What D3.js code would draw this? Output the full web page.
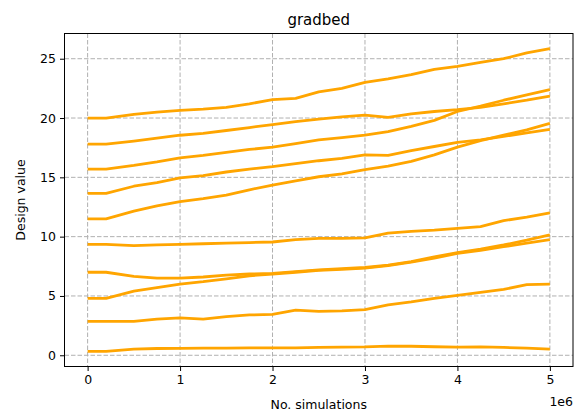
<!DOCTYPE html>
<html>
<head>
<meta charset="utf-8">
<script src="https://cdn.jsdelivr.net/npm/d3@7"></script>
<style>
  body { margin: 0; background: #fff; }
  svg { font-family: "DejaVu Sans", sans-serif; }
</style>
</head>
<body>
<div id="chart"></div>
<script>
"use strict";

// abscisses communes : nombre de simulations
var simulations = [0, 2e5, 5e5, 7.5e5, 1e6, 1.25e6, 1.5e6, 1.75e6, 2e6, 2.25e6, 2.5e6,
  2.75e6, 3e6, 3.25e6, 3.5e6, 3.75e6, 4e6, 4.25e6, 4.5e6, 4.75e6, 5e6];

// une série par trajectoire de "design value"
var trajet20 = [20.0, 20.0, 20.3, 20.5, 20.65, 20.75, 20.9, 21.2, 21.55, 21.65, 22.2,
  22.5, 23.0, 23.3, 23.65, 24.1, 24.35, 24.7, 25.0, 25.5, 25.85];
var trajet18 = [17.8, 17.8, 18.05, 18.3, 18.55, 18.7, 18.95, 19.2, 19.45, 19.7, 19.9,
  20.1, 20.25, 20.05, 20.35, 20.55, 20.7, 20.9, 21.2, 21.5, 21.85];
var trajet16 = [15.7, 15.7, 16.0, 16.3, 16.65, 16.85, 17.1, 17.35, 17.55, 17.85, 18.15,
  18.35, 18.55, 18.85, 19.3, 19.8, 20.55, 21.0, 21.5, 21.95, 22.4];
var trajet14 = [13.65, 13.65, 14.25, 14.55, 14.95, 15.15, 15.45, 15.7, 15.9, 16.15, 16.4,
  16.6, 16.9, 16.85, 17.25, 17.6, 17.95, 18.15, 18.45, 18.75, 19.05];
var trajet12 = [11.5, 11.5, 12.15, 12.6, 12.95, 13.2, 13.5, 13.95, 14.35, 14.7, 15.05,
  15.3, 15.65, 15.95, 16.35, 16.9, 17.55, 18.1, 18.55, 19.0, 19.55];
var trajet9 = [9.35, 9.35, 9.25, 9.3, 9.35, 9.4, 9.45, 9.5, 9.55, 9.75, 9.85,
  9.85, 9.9, 10.3, 10.45, 10.55, 10.7, 10.85, 11.35, 11.65, 12.0];
var trajet7 = [7.0, 7.0, 6.65, 6.5, 6.5, 6.6, 6.75, 6.85, 6.9, 7.05, 7.2,
  7.3, 7.4, 7.6, 7.9, 8.3, 8.65, 8.95, 9.3, 9.7, 10.15];
var trajet5 = [4.8, 4.8, 5.4, 5.7, 6.0, 6.2, 6.45, 6.7, 6.85, 7.0, 7.15,
  7.25, 7.35, 7.55, 7.85, 8.2, 8.6, 8.85, 9.15, 9.45, 9.75];
var trajet3 = [2.85, 2.85, 2.85, 3.05, 3.15, 3.05, 3.25, 3.4, 3.45, 3.8, 3.7,
  3.75, 3.85, 4.25, 4.5, 4.8, 5.05, 5.3, 5.55, 5.95, 6.0];
var trajet0 = [0.33, 0.33, 0.52, 0.57, 0.58, 0.6, 0.6, 0.62, 0.62, 0.63, 0.66,
  0.68, 0.7, 0.78, 0.76, 0.72, 0.68, 0.7, 0.66, 0.6, 0.52];

var trajets = [trajet20, trajet18, trajet16, trajet14, trajet12, trajet9, trajet7, trajet5, trajet3, trajet0];

var ticksX = [0, 1e6, 2e6, 3e6, 4e6, 5e6];
var ticksY = [0, 5, 10, 15, 20, 25];

var largeur = 582, hauteur = 418,
  marge = { top: 33.5, right: 9, bottom: 51.5, left: 64.5 };

// marges de 5 % à la manière de matplotlib
function etendre (ext) {
  var d = (ext[1] - ext[0]) * 0.05;
  return [ext[0] - d, ext[1] + d];
}

var x = d3.scaleLinear()
  .domain(etendre(d3.extent(simulations)))
  .range([marge.left, largeur - marge.right]);
var y = d3.scaleLinear()
  .domain(etendre(d3.extent(d3.merge(trajets))))
  .range([hauteur - marge.bottom, marge.top]);

var svg = d3.select("#chart").append("svg")
  .attr("width", largeur)
  .attr("height", hauteur);

// grilles
var grille = svg.append("g").attr("class", "grilles")
  .attr("stroke", "#b0b0b0").attr("stroke-width", 1).attr("stroke-dasharray", "4.5,2");
grille.selectAll(".gx").data(ticksX).enter().append("line")
  .attr("x1", d => x(d)).attr("x2", d => x(d))
  .attr("y1", marge.top).attr("y2", hauteur - marge.bottom);
grille.selectAll(".gy").data(ticksY).enter().append("line")
  .attr("x1", marge.left).attr("x2", largeur - marge.right)
  .attr("y1", d => y(d)).attr("y2", d => y(d));

// tracés
var ligne = d3.line()
  .x((d, i) => x(simulations[i]))
  .y(d => y(d));
svg.append("g")
  .selectAll("path").data(trajets).enter().append("path")
  .attr("d", ligne)
  .attr("fill", "none")
  .attr("stroke", "#ffa500")
  .attr("stroke-width", 2.8)
  .attr("stroke-linejoin", "round");

// cadre
svg.append("rect")
  .attr("x", marge.left).attr("y", marge.top)
  .attr("width", largeur - marge.right - marge.left)
  .attr("height", hauteur - marge.bottom - marge.top)
  .attr("fill", "none").attr("stroke", "#000").attr("stroke-width", 1);

// axes
var axeX = svg.append("g")
  .attr("transform", "translate(0," + (hauteur - marge.bottom) + ")")
  .call(d3.axisBottom(x).tickValues(ticksX).tickFormat(d => d / 1e6).tickSize(4.5).tickPadding(4));
var axeY = svg.append("g")
  .attr("transform", "translate(" + marge.left + ",0)")
  .call(d3.axisLeft(y).tickValues(ticksY).tickSize(4.5).tickPadding(4));
[axeX, axeY].forEach(function (a) {
  a.select(".domain").remove();
  a.selectAll("text").attr("font-size", 12.5).attr("fill", "#000")
    .attr("font-family", "DejaVu Sans, sans-serif");
  a.selectAll("line").attr("stroke", "#000").attr("stroke-width", 1);
});

// textes
svg.append("text")
  .attr("x", (marge.left + largeur - marge.right) / 2).attr("y", 25)
  .attr("text-anchor", "middle").attr("font-size", 15)
  .text("gradbed");
svg.append("text")
  .attr("x", (marge.left + largeur - marge.right) / 2).attr("y", 409)
  .attr("text-anchor", "middle").attr("font-size", 12.5)
  .text("No. simulations");
svg.append("text")
  .attr("x", largeur - marge.right).attr("y", 406)
  .attr("text-anchor", "end").attr("font-size", 12.5)
  .text("1e6");
svg.append("text")
  .attr("transform", "translate(25," + ((marge.top + hauteur - marge.bottom) / 2) + ") rotate(-90)")
  .attr("text-anchor", "middle").attr("font-size", 12.5)
  .text("Design value");
</script>
</body>
</html>
